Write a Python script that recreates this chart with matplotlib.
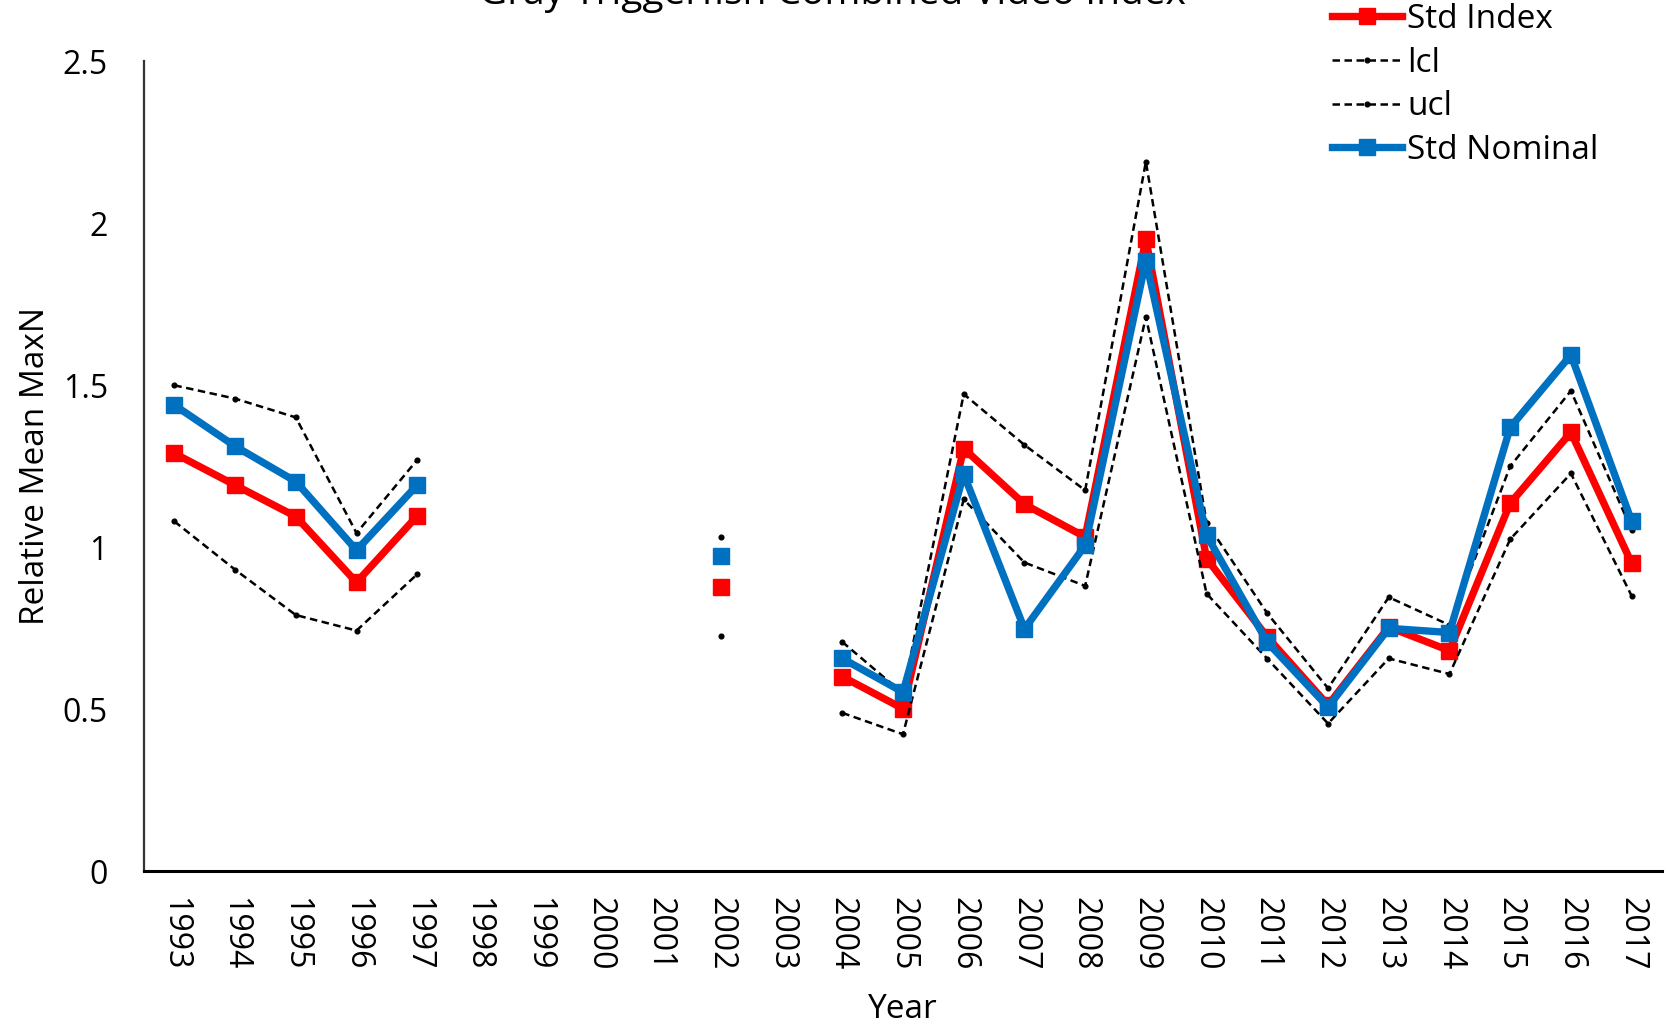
import numpy as np
import matplotlib
matplotlib.use("Agg")
import matplotlib.pyplot as plt

plt.rcParams['font.family'] = ['Open Sans', 'DejaVu Sans']

nan = np.nan
years = [str(y) for y in range(1993, 2018)]

std_index = [1.289, 1.191, 1.094, 0.891, 1.096, nan, nan, nan, nan, 0.877, nan,
             0.600, 0.501, 1.304, 1.132, 1.031, 1.950, 0.964, 0.722, 0.512,
             0.753, 0.680, 1.135, 1.354, 0.950]
lcl = [1.079, 0.930, 0.790, 0.742, 0.916, nan, nan, nan, nan, 0.724, nan,
       0.488, 0.422, 1.147, 0.952, 0.880, 1.710, 0.856, 0.655, 0.455,
       0.656, 0.608, 1.024, 1.227, 0.849]
ucl = [1.499, 1.458, 1.400, 1.043, 1.269, nan, nan, nan, nan, 1.030, nan,
       0.707, 0.548, 1.472, 1.315, 1.175, 2.189, 1.075, 0.795, 0.564,
       0.845, 0.759, 1.249, 1.482, 1.052]
std_nominal = [1.438, 1.311, 1.202, 0.990, 1.191, nan, nan, nan, nan, 0.971, nan,
               0.656, 0.552, 1.225, 0.747, 1.005, 1.884, 1.036, 0.706, 0.506,
               0.749, 0.736, 1.369, 1.593, 1.080]

y_ticks = [0, 0.5, 1, 1.5, 2, 2.5]
y_tick_labels = ['0', '0.5', '1', '1.5', '2', '2.5']

RED = '#FF0000'
BLUE = '#0070C0'
FS_TICK = 23
FS = 24

fig = plt.figure(figsize=(16.67, 10.24), dpi=100)
ax = fig.add_axes([144 / 1667, 1 - 871 / 1024, (1662 - 144) / 1667, (871 - 61) / 1024])

x = np.arange(len(years))
ax.plot(x, std_index, color=RED, lw=5.3, marker='s', ms=11, label='Std Index', zorder=3)
ax.plot(x, lcl, color='black', lw=1.8, ls=(0, (3, 1.8)), marker='o', ms=3.4,
        label='lcl', zorder=4)
ax.plot(x, ucl, color='black', lw=1.8, ls=(0, (3, 1.8)), marker='o', ms=3.4,
        label='ucl', zorder=4)
ax.plot(x, std_nominal, color=BLUE, lw=5.3, marker='s', ms=11, label='Std Nominal', zorder=5)

ax.set_xlim(-0.5, len(years) - 0.5)
ax.set_ylim(0, 2.5)
ax.set_xticks(x)
ax.set_xticklabels(years, rotation=-90, fontsize=FS_TICK)
ax.set_yticks(y_ticks)
ax.set_yticklabels(y_tick_labels, fontsize=FS_TICK)
ax.tick_params(axis='x', length=0, pad=19)
ax.tick_params(axis='y', length=0, pad=26)

for side in ('top', 'right'):
    ax.spines[side].set_visible(False)
ax.spines['left'].set_linewidth(1.6)
ax.spines['left'].set_color('#333333')
ax.spines['bottom'].set_linewidth(2.2)
ax.spines['bottom'].set_color('black')

ax.set_xlabel('Year', fontsize=FS, labelpad=16)
ax.set_ylabel('Relative Mean MaxN', fontsize=FS, labelpad=8)

fig.text(832 / 1667, 1 - 4 / 1024, 'Gray Triggerfish Combined Video Index',
         fontsize=28, ha='center', va='baseline')

fig.legend(loc='upper left', bbox_to_anchor=(1332 / 1667, 1 - 3 / 1024),
           bbox_transform=fig.transFigure, frameon=False, fontsize=FS,
           borderpad=0, borderaxespad=0, handlelength=2.1, handletextpad=0.15,
           labelspacing=0.32)

fig.savefig('out.png', dpi=100)
